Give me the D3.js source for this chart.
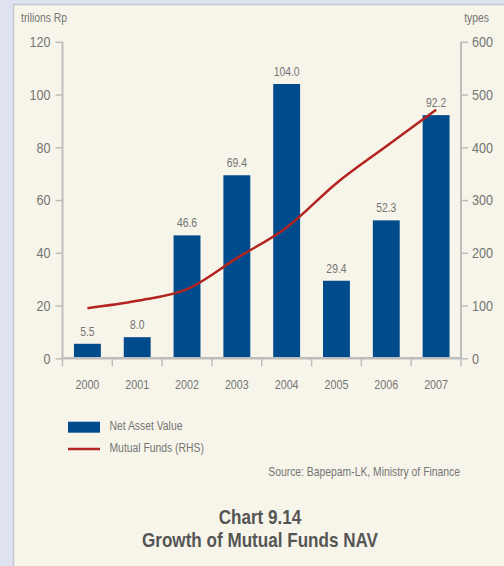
<!DOCTYPE html>
<html><head><meta charset="utf-8">
<script src="https://cdn.jsdelivr.net/npm/d3@7"></script>
<style>
html,body{margin:0;padding:0;background:#dfe3f0;}
svg{display:block;}
text{font-family:"Liberation Sans",Arial,sans-serif;}
</style></head><body>
<script>
const years = ["2000","2001","2002","2003","2004","2005","2006","2007"];
const navValues = [5.5, 8.0, 46.6, 69.4, 104.0, 29.4, 52.3, 92.2];
const fundCounts = [95, 109, 131, 190, 248, 332, 402, 471];
const leftTicks = [0, 20, 40, 60, 80, 100, 120];
const rightTicks = [0, 100, 200, 300, 400, 500, 600];

const W = 504, H = 566;
const svg = d3.select("body").append("svg").attr("width", W).attr("height", H);

// condense text horizontally around its x anchor
function condense(sel, s) {
  sel.each(function () {
    const t = d3.select(this);
    const xv = +(t.attr("x") || 0);
    t.attr("transform", `translate(${xv * (1 - s)},0) scale(${s},1)`);
  });
}

// panel
svg.append("rect").attr("x", 13.5).attr("y", 4.5).attr("width", 520).attr("height", 600)
  .attr("fill", "#f7f5ea").attr("stroke", "#c5c7d2").attr("stroke-width", 1.5);

const x0 = 62.5, x1 = 461, yBase = 358.3, yTop = 41.8;
const x = d3.scaleBand().domain(years).range([x0, x1]).padding(0);
const yL = d3.scaleLinear().domain([0, 120]).range([yBase, yTop]);
const yR = d3.scaleLinear().domain([0, 600]).range([yBase, yTop]);
const axisColor = "#bdbdbd", textColor = "#747474";

// bars
const bw = x.bandwidth() * 0.54;
svg.append("g").selectAll("rect").data(navValues).join("rect")
  .attr("x", (d, i) => x(years[i]) + (x.bandwidth() - bw) / 2)
  .attr("y", d => yL(d)).attr("width", bw).attr("height", d => yBase - yL(d))
  .attr("fill", "#004b8b");

// value labels
const vl = svg.append("g").selectAll("text").data(navValues).join("text")
  .attr("x", (d, i) => x(years[i]) + x.bandwidth() / 2)
  .attr("y", d => yL(d) - 8)
  .attr("text-anchor", "middle").attr("font-size", 12.5).attr("fill", textColor)
  .text(d => d.toFixed(1));
condense(vl, 0.83);

// left axis
const gl = svg.append("g").attr("transform", `translate(${x0},0)`)
  .call(d3.axisLeft(yL).tickValues(leftTicks).tickSize(7).tickPadding(5));
// right axis
const gr = svg.append("g").attr("transform", `translate(${x1},0)`)
  .call(d3.axisRight(yR).tickValues(rightTicks).tickSize(7).tickPadding(4));
[gl, gr].forEach(g => {
  g.select(".domain").attr("stroke", axisColor).attr("stroke-width", 2).attr("d", `M0,${yTop}V${yBase}`);
  g.selectAll(".tick line").attr("stroke", axisColor).attr("stroke-width", 1.5);
  const tt = g.selectAll(".tick text").attr("fill", textColor).attr("font-size", 15)
    .attr("font-family", "'Liberation Sans',Arial,sans-serif");
  condense(tt, 0.84);
});

// x axis
const gx = svg.append("g").attr("transform", `translate(0,${yBase})`)
  .call(d3.axisBottom(x).tickSize(0).tickPadding(22));
gx.select(".domain").attr("stroke", axisColor).attr("stroke-width", 2.5).attr("d", `M${x0},0H${x1}`);
const xt = gx.selectAll(".tick text").attr("fill", textColor).attr("font-size", 12.5)
  .attr("font-family", "'Liberation Sans',Arial,sans-serif");
condense(xt, 0.86);
const bounds = years.map(y => x(y)).concat([x1]);
gx.append("g").selectAll("line").data(bounds).join("line")
  .attr("x1", d => d).attr("x2", d => d).attr("y1", 0).attr("y2", 8)
  .attr("stroke", axisColor).attr("stroke-width", 1.5);

// line
const line = d3.line()
  .x((d, i) => x(years[i]) + x.bandwidth() / 2)
  .y(d => yR(d))
  .curve(d3.curveMonotoneX);
svg.append("path").datum(fundCounts).attr("d", line)
  .attr("fill", "none").attr("stroke", "#b3231f").attr("stroke-width", 2.5);

// axis titles
const misc = [];
misc.push(svg.append("text").attr("x", 21).attr("y", 22).attr("font-size", 12.5).attr("fill", textColor).text("trilions Rp"));
misc.push(svg.append("text").attr("x", 489).attr("y", 22).attr("text-anchor", "end").attr("font-size", 12.5).attr("fill", textColor).text("types"));

// legend
svg.append("rect").attr("x", 68).attr("y", 421.7).attr("width", 32).attr("height", 11).attr("fill", "#004b8b");
svg.append("line").attr("x1", 68).attr("x2", 100).attr("y1", 449).attr("y2", 449).attr("stroke", "#b3231f").attr("stroke-width", 2.5);
misc.push(svg.append("text").attr("x", 109.5).attr("y", 430.5).attr("font-size", 12.5).attr("fill", textColor).text("Net Asset Value"));
misc.push(svg.append("text").attr("x", 109.5).attr("y", 452.5).attr("font-size", 12.5).attr("fill", textColor).text("Mutual Funds (RHS)"));

// source
misc.push(svg.append("text").attr("x", 460).attr("y", 476).attr("text-anchor", "end").attr("font-size", 12.5).attr("fill", textColor)
  .text("Source: Bapepam-LK, Ministry of Finance"));
misc.forEach(t => condense(t, 0.83));

// title
const t1 = svg.append("text").attr("x", 260).attr("y", 524).attr("text-anchor", "middle").attr("font-size", 20).attr("font-weight", "bold").attr("fill", "#555").text("Chart 9.14");
const t2 = svg.append("text").attr("x", 260).attr("y", 547).attr("text-anchor", "middle").attr("font-size", 20).attr("font-weight", "bold").attr("fill", "#555").text("Growth of Mutual Funds NAV");
condense(t1, 0.855); condense(t2, 0.855);
</script>
</body></html>
